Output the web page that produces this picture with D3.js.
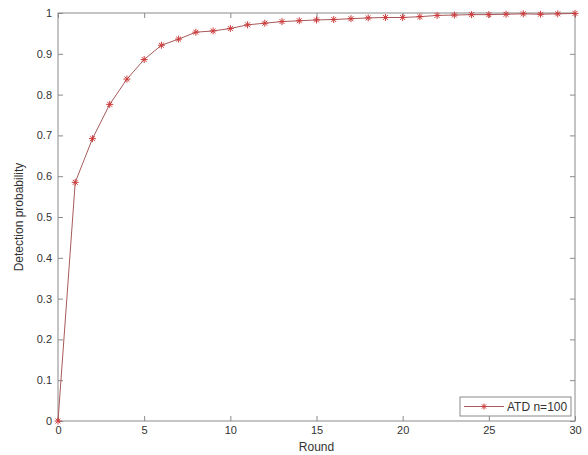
<!DOCTYPE html>
<html>
<head>
<meta charset="utf-8">
<script src="https://cdn.jsdelivr.net/npm/d3@7"></script>
<style>
  body { margin: 0; background: #fff; }
  text { font-family: "Liberation Sans", Arial, sans-serif; fill: #333; }
</style>
</head>
<body>
<div id="chart"></div>
<script>
// rounds and detection probability
var rounds = d3.range(0, 31);
var detection = [0, 0.585, 0.692, 0.776, 0.838, 0.886, 0.921, 0.936, 0.953, 0.956,
                 0.962, 0.971, 0.975, 0.979, 0.981, 0.983, 0.984, 0.986, 0.988, 0.989,
                 0.989, 0.991, 0.994, 0.995, 0.996, 0.996, 0.997, 0.998, 0.997, 0.998, 0.999];
var xTicks = [0, 5, 10, 15, 20, 25, 30];
var yTicks = d3.range(0, 11).map(function(d) { return d / 10; });
var seriesName = "ATD n=100";

var W = 588, H = 455;
var margin = { left: 58, top: 13, right: 13, bottom: 34 };
var width = W - margin.left - margin.right,
    height = H - margin.top - margin.bottom;

var axisColor = "#8a8a8a",
    lineColor = "#a85a5a",
    markColor = "#cc3b3b";

var svg = d3.select("#chart").append("svg")
    .attr("width", W)
    .attr("height", H);

var g = svg.append("g")
    .attr("transform", "translate(" + margin.left + "," + margin.top + ")");

var x = d3.scaleLinear().domain([0, 30]).range([0, width]);
var y = d3.scaleLinear().domain([0, 1]).range([height, 0]);

// box with inward ticks on all four sides (matlab style)
function styleAxis(sel) {
    sel.select(".domain").remove();
    sel.selectAll(".tick line").attr("stroke", axisColor);
    sel.selectAll(".tick text").style("font-size", "11px").attr("fill", "#333");
}

g.append("g")
    .attr("transform", "translate(0," + height + ")")
    .call(d3.axisBottom(x).tickValues(xTicks).tickSizeInner(-5).tickSizeOuter(0).tickPadding(5))
    .call(styleAxis);

g.append("g")
    .call(d3.axisTop(x).tickValues(xTicks).tickSizeInner(-5).tickSizeOuter(0).tickFormat(""))
    .call(styleAxis);

g.append("g")
    .call(d3.axisLeft(y).tickValues(yTicks).tickSizeInner(-5).tickSizeOuter(0).tickPadding(6)
        .tickFormat(function(d) { return d === 0 || d === 1 ? d3.format("d")(d) : d3.format(".1f")(d); }))
    .call(styleAxis);

g.append("g")
    .attr("transform", "translate(" + width + ",0)")
    .call(d3.axisRight(y).tickValues(yTicks).tickSizeInner(-5).tickSizeOuter(0).tickFormat(""))
    .call(styleAxis);

g.append("rect")
    .attr("width", width)
    .attr("height", height)
    .attr("fill", "none")
    .attr("stroke", axisColor)
    .attr("stroke-width", 1);

// data line
var line = d3.line()
    .x(function(d, i) { return x(rounds[i]); })
    .y(function(d) { return y(d); });

g.append("path")
    .datum(detection)
    .attr("fill", "none")
    .attr("stroke", lineColor)
    .attr("stroke-width", 1)
    .attr("d", line);

// asterisk markers
function star(sel, r) {
    sel.append("path")
        .attr("d", "M" + (-r) + ",0H" + r + "M0," + (-r) + "V" + r +
            "M" + (-r * 0.7) + "," + (-r * 0.7) + "L" + (r * 0.7) + "," + (r * 0.7) +
            "M" + (-r * 0.7) + "," + (r * 0.7) + "L" + (r * 0.7) + "," + (-r * 0.7))
        .attr("stroke", markColor)
        .attr("stroke-width", 1)
        .attr("fill", "none");
}

g.selectAll("g.mark")
    .data(detection)
    .enter().append("g")
    .attr("class", "mark")
    .attr("transform", function(d, i) { return "translate(" + x(rounds[i]) + "," + y(d) + ")"; })
    .call(star, 3.5);

// axis titles
svg.append("text")
    .attr("x", margin.left + width / 2)
    .attr("y", 451)
    .attr("text-anchor", "middle")
    .style("font-size", "12px")
    .text("Round");

svg.append("text")
    .attr("transform", "translate(23," + (margin.top + height / 2) + ") rotate(-90)")
    .attr("text-anchor", "middle")
    .style("font-size", "12px")
    .text("Detection probability");

// legend
var legend = svg.append("g")
    .attr("transform", "translate(460,397)");

legend.append("rect")
    .attr("width", 111)
    .attr("height", 19)
    .attr("fill", "#fff")
    .attr("stroke", axisColor);

legend.append("line")
    .attr("x1", 4).attr("x2", 44)
    .attr("y1", 9.5).attr("y2", 9.5)
    .attr("stroke", lineColor);

legend.append("g")
    .attr("transform", "translate(24,9.5)")
    .call(star, 3);

legend.append("text")
    .attr("x", 47)
    .attr("y", 13.5)
    .style("font-size", "12px")
    .text(seriesName);
</script>
</body>
</html>
